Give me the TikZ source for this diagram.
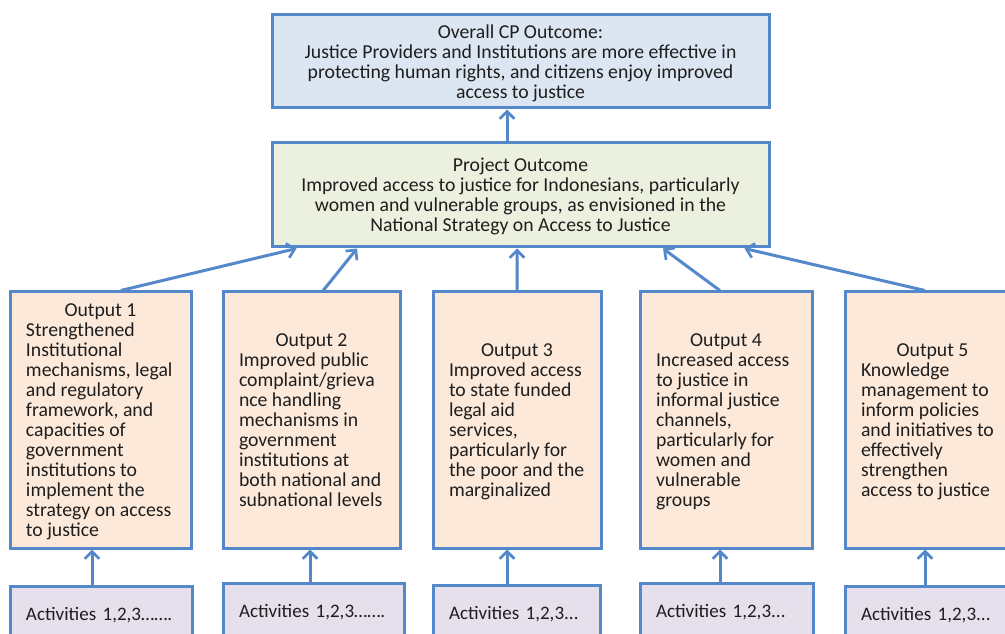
\documentclass[tikz,border=0pt]{standalone}
\usepackage{fontspec}
\setmainfont{Carlito}
\usetikzlibrary{arrows.meta,calc}
\definecolor{bcol}{RGB}{84,136,202}
\definecolor{topfill}{RGB}{220,230,242}
\definecolor{pofill}{RGB}{235,241,222}
\definecolor{ofill}{RGB}{253,233,217}
\definecolor{afill}{RGB}{229,224,236}
\definecolor{tcol}{RGB}{30,30,30}
\newcommand\fsmain{\fontsize{14.8}{15}\selectfont}
\newcommand\fsact{\fontsize{14.3}{15}\selectfont}
\tikzset{
  box/.style={draw=bcol, line width=2.25pt, text=tcol, font=\fsmain, text depth=-1.5pt},
  topbox/.style={box, fill=topfill, align=center, minimum width=372.75pt, minimum height=69.75pt, inner sep=0pt},
  pobox/.style={box, fill=pofill, align=center, minimum width=372.75pt, minimum height=78pt, inner sep=0pt},
  outbox/.style={box, fill=ofill, align=left, minimum height=192pt, inner xsep=12pt, inner ysep=0pt},
  actbox/.style={box, fill=afill, align=left, font=\fsact, minimum height=41.25pt, inner xsep=12pt, inner ysep=0pt},
  arr/.style={draw=bcol, line width=2.25pt, -{Straight Barb[length=5.5pt,width=11pt,line width=2pt]}},
}
\begin{document}
\begin{tikzpicture}[x=0.75pt,y=-0.75pt]
\useasboundingbox (0,0) rectangle (1005,634);
\clip (0,0) rectangle (1005,634);
% top
\node[topbox] (top) at (520.5,61.5) {Overall CP Outcome:\\Justice Providers and Institutions are more effective in\\protecting human rights, and citizens enjoy improved\\access to justice};
\node[pobox] (po) at (520.5,195) {Project Outcome\\Improved access to justice for Indonesians, particularly\\women and vulnerable groups, as envisioned in the\\National Strategy on Access to Justice};
% outputs
\node[outbox, minimum width=135.75pt] (o1) at (100.5,420) {\makebox[111.75pt]{Output 1}\\Strengthened\\Institutional\\mechanisms, legal\\and regulatory\\framework, and\\capacities of\\government\\institutions to\\implement the\\strategy on access\\to justice};
\node[outbox, minimum width=132.75pt] (o2) at (311.5,420) {\makebox[108.75pt]{Output 2}\\Improved public\\complaint/grieva\\nce handling\\mechanisms in\\government\\institutions at\\both national and\\subnational levels};
\node[outbox, minimum width=126pt] (o3) at (517,420) {\makebox[102pt]{Output 3}\\Improved access\\to state funded\\legal aid\\services,\\particularly for\\the poor and the\\marginalized};
\node[outbox, minimum width=129pt] (o4) at (726,420) {\makebox[105pt]{Output 4}\\Increased access\\to justice in\\informal justice\\channels,\\particularly for\\women and\\vulnerable\\groups};
\node[outbox, minimum width=131.25pt] (o5) at (932.5,420) {\makebox[107.25pt]{Output 5}\\Knowledge\\management to\\inform policies\\and initiatives to\\effectively\\strengthen\\access to justice};
% activities
\node[actbox, minimum width=136.5pt, text width=112.5pt] (a1) at (101,613.5) {\mbox{Activities 1,2,3…….}};
\node[actbox, minimum width=135.75pt, text width=111.75pt] (a2) at (313.5,610.5) {\mbox{Activities 1,2,3…….}};
\node[actbox, minimum width=125.25pt, text width=101.25pt] (a3) at (516.5,612.5) {\mbox{Activities 1,2,3...}};
\node[actbox, minimum width=129.75pt, text width=105.75pt] (a4) at (726.5,610.5) {\mbox{Activities 1,2,3...}};
\node[actbox, minimum width=131.25pt, text width=107.25pt] (a5) at (932.5,613.5) {\mbox{Activities 1,2,3...}};
% x positions for vertical arrows
\coordinate (x1) at (92,0);
\coordinate (x2) at (310,0);
\coordinate (x3) at (507,0);
\coordinate (x4) at (720,0);
\coordinate (x5) at (925,0);
\foreach \i in {1,...,5}{
  \draw[arr] (a\i.north -| x\i) -- (o\i.south -| x\i);
}
% outputs to project outcome
\draw[arr] ($(o1.north west)!0.61!(o1.north east)$) -- ($(po.south west)!0.052!(po.south east)$);
\draw[arr] ($(o2.north west)!0.565!(o2.north east)$) -- ($(po.south west)!0.173!(po.south east)$);
\draw[arr] ($(o3.north west)!0.5!(o3.north east)$) -- ($(po.south west)!0.493!(po.south east)$);
\draw[arr] ($(o4.north west)!0.465!(o4.north east)$) -- ($(po.south west)!0.785!(po.south east)$);
\draw[arr] ($(o5.north west)!0.457!(o5.north east)$) -- ($(po.south west)!0.948!(po.south east)$);
% project outcome to overall
\draw[arr] ($(po.north west)!0.473!(po.north east)$) -- ($(top.south west)!0.473!(top.south east)$);
\end{tikzpicture}
\end{document}
